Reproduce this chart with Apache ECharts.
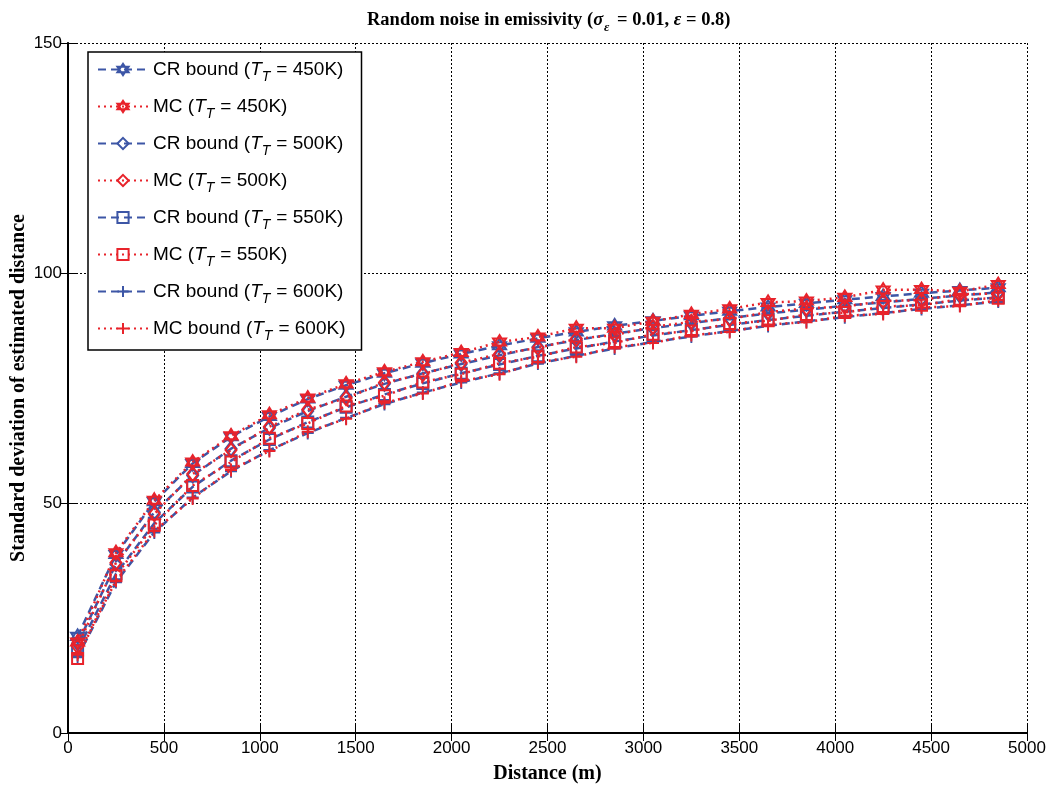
<!DOCTYPE html>
<html>
<head>
<meta charset="utf-8">
<title>Random noise in emissivity</title>
<script src="https://cdn.jsdelivr.net/npm/echarts@6/dist/echarts.min.js"></script>
<style>
  html, body { margin: 0; padding: 0; background: #fff; }
  #chart { width: 1053px; height: 789px; }
</style>
</head>
<body>
<div id="chart"></div>
<script>
// distance (m) of each simulated point
const distance = [50, 250, 450, 650, 850, 1050, 1250, 1450, 1650, 1850, 2050, 2250, 2450,
                  2650, 2850, 3050, 3250, 3450, 3650, 3850, 4050, 4250, 4450, 4650, 4850];

// CR bound curves
const cr450 = [21.0, 38.8, 50.3, 58.6, 64.4, 68.8, 72.6, 75.6, 78.2, 80.4, 82.4, 84.2, 85.8,
               87.2, 88.5, 89.6, 90.7, 91.7, 92.6, 93.4, 94.2, 94.9, 95.6, 96.2, 96.8];
const cr500 = [19.5, 36.7, 48.0, 56.0, 61.8, 66.3, 70.0, 73.1, 75.9, 78.2, 80.2, 82.1, 83.9,
               85.4, 86.8, 88.0, 89.1, 90.2, 91.2, 92.0, 92.9, 93.6, 94.4, 95.1, 95.8];
const cr550 = [18.0, 34.6, 45.6, 53.5, 59.2, 63.8, 67.6, 70.8, 73.6, 76.0, 78.2, 80.1, 82.0,
               83.6, 85.1, 86.4, 87.6, 88.7, 89.8, 90.7, 91.6, 92.4, 93.2, 94.0, 94.7];
const cr600 = [16.5, 32.8, 43.6, 51.2, 56.9, 61.5, 65.2, 68.5, 71.5, 74.0, 76.2, 78.2, 80.3,
               82.0, 83.6, 85.0, 86.2, 87.4, 88.5, 89.5, 90.4, 91.3, 92.2, 93.0, 93.8];

// Monte Carlo curves
const mc450 = [19.8, 39.2, 50.6, 58.9, 64.6, 69.2, 72.8, 75.9, 78.5, 80.7, 82.7, 85.0, 86.1,
               88.0, 88.0, 89.5, 91.0, 92.2, 93.6, 93.9, 94.7, 96.3, 96.4, 96.0, 97.5];
const mc500 = [18.8, 37.0, 47.6, 56.3, 61.5, 66.6, 70.3, 72.8, 76.2, 78.0, 80.5, 82.4, 83.7,
               85.7, 86.5, 88.3, 89.4, 90.0, 91.5, 92.3, 92.7, 93.9, 94.1, 95.4, 95.5];
const mc550 = [16.2, 34.2, 45.2, 53.8, 58.9, 64.1, 67.3, 71.1, 73.3, 76.3, 78.0, 80.4, 81.8,
               83.9, 84.8, 86.7, 87.4, 89.0, 89.6, 91.0, 91.4, 92.7, 93.0, 94.3, 94.5];
const mc600 = [17.0, 33.1, 43.9, 51.0, 57.2, 61.3, 65.5, 68.3, 71.8, 73.8, 76.5, 78.0, 80.6,
               81.8, 83.9, 84.8, 86.5, 87.2, 88.8, 89.3, 90.7, 91.1, 92.5, 92.8, 94.1];

const temps = ['450K', '500K', '550K', '600K'];

const BLUE = '#3d56a6';
const RED = '#e8232b';

// hollow marker shapes
const markers = {
  hexagram: 'path://M0,-10L8.66,5L-8.66,5ZM0,10L8.66,-5L-8.66,-5Z',
  diamond: 'path://M0,-10L7,0L0,10L-7,0Z',
  square: 'path://M-10,-10L10,-10L10,10L-10,10Z',
  plus: 'path://M0,-10L0,10M-10,0L10,0'
};

function pairs(ys) {
  return distance.map((x, i) => [x, ys[i]]);
}

function makeSeries(name, ys, kind, shape, size) {
  let isCR = kind === 'cr';
  let col = isCR ? BLUE : RED;
  return {
    name: name,
    type: 'line',
    data: pairs(ys),
    symbol: markers[shape],
    symbolSize: size,
    showSymbol: true,
    z: isCR ? 2 : 3,
    lineStyle: { color: col, width: 2.5, type: isCR ? [8, 5] : [2, 4] },
    itemStyle: { color: 'rgba(0,0,0,0)', borderColor: col, borderWidth: 2 },
    emphasis: { disabled: true },
    animation: false
  };
}

function lg(prefix, t) {
  return '{a|' + prefix + ' (}{i|T}{s|T}{a|= ' + t + ')}';
}

const series = [
  makeSeries(lg('CR bound', temps[0]), cr450, 'cr', 'hexagram', [13, 14]),
  makeSeries(lg('MC', temps[0]), mc450, 'mc', 'hexagram', [13, 14]),
  makeSeries(lg('CR bound', temps[1]), cr500, 'cr', 'diamond', [11, 14]),
  makeSeries(lg('MC', temps[1]), mc500, 'mc', 'diamond', [11, 14]),
  makeSeries(lg('CR bound', temps[2]), cr550, 'cr', 'square', [11, 11]),
  makeSeries(lg('MC', temps[2]), mc550, 'mc', 'square', [11, 11]),
  makeSeries(lg('CR bound', temps[3]), cr600, 'cr', 'plus', [12, 13]),
  makeSeries(lg('MC bound', temps[3]), mc600, 'mc', 'plus', [12, 13])
];

const chart = echarts.init(document.getElementById('chart'), null, { renderer: 'canvas' });

const tickFont = { fontFamily: 'Liberation Sans', fontSize: 17, color: '#000' };
const nameFont = { fontFamily: 'Liberation Serif', fontWeight: 'bold', fontSize: 20, color: '#000' };
const gridLine = { show: true, lineStyle: { color: '#000', width: 1, type: [2, 2] } };
const plain = v => String(v);

const option = {
  backgroundColor: '#fff',
  animation: false,
  title: {
    text: '{b|Random noise in emissivity (}{g|σ}{s|ε}{b| = 0.01, }{g|ε}{b| = 0.8)}',
    left: 362,
    top: 2,
    textStyle: {
      rich: {
        b: { fontFamily: 'Liberation Serif', fontWeight: 'bold', fontSize: 18.5, color: '#000' },
        g: { fontFamily: 'Liberation Serif', fontWeight: 'bold', fontStyle: 'italic', fontSize: 18.5, color: '#000' },
        s: { fontFamily: 'Liberation Serif', fontWeight: 'bold', fontStyle: 'italic', fontSize: 13, color: '#000', padding: [14, 3, 0, 1] }
      }
    }
  },
  grid: { left: 68, right: 26, top: 43, bottom: 56, containLabel: false, outerBoundsMode: 'none' },
  legend: {
    orient: 'vertical',
    left: 88,
    top: 52,
    padding: [8, 16, 7, 9],
    itemWidth: 50,
    itemHeight: 14,
    itemGap: 13,
    backgroundColor: '#fff',
    borderColor: '#000',
    borderWidth: 1.5,
    borderRadius: 0,
    selectedMode: false,
    data: series.map(s => s.name),
    textStyle: {
      rich: {
        a: { fontFamily: 'Liberation Sans', fontSize: 19, color: '#000' },
        i: { fontFamily: 'Liberation Sans', fontStyle: 'italic', fontSize: 19, color: '#000' },
        s: { fontFamily: 'Liberation Sans', fontStyle: 'italic', fontSize: 14, color: '#000', padding: [15, 6, 0, 0] }
      }
    }
  },
  xAxis: [
    {
      type: 'value',
      min: 0,
      max: 5000,
      interval: 500,
      name: 'Distance (m)',
      nameLocation: 'middle',
      nameGap: 31,
      nameMoveOverlap: false,
      nameTextStyle: nameFont,
      axisLine: { show: true, lineStyle: { color: '#000', width: 2 } },
      axisTick: { show: true, inside: true, length: 8, lineStyle: { color: '#000' } },
      axisLabel: Object.assign({ margin: 7, formatter: plain }, tickFont),
      splitLine: gridLine
    },
    {
      type: 'value',
      position: 'top',
      min: 0,
      max: 5000,
      interval: 500,
      axisLine: { show: true, lineStyle: { color: '#000', width: 1.5 } },
      axisTick: { show: true, inside: true, length: 8, lineStyle: { color: '#000' } },
      axisLabel: { show: false },
      splitLine: { show: false }
    }
  ],
  yAxis: [
    {
      type: 'value',
      min: 0,
      max: 150,
      interval: 50,
      name: 'Standard deviation of estimated distance',
      nameLocation: 'middle',
      nameGap: 39,
      nameMoveOverlap: false,
      nameTextStyle: nameFont,
      axisLine: { show: true, lineStyle: { color: '#000', width: 2 } },
      axisTick: { show: true, inside: true, length: 8, lineStyle: { color: '#000' } },
      axisLabel: Object.assign({ margin: 6, formatter: plain }, tickFont),
      splitLine: gridLine
    },
    {
      type: 'value',
      position: 'right',
      min: 0,
      max: 150,
      interval: 50,
      axisLine: { show: true, lineStyle: { color: '#000', width: 1.5 } },
      axisTick: { show: true, inside: true, length: 8, lineStyle: { color: '#000' } },
      axisLabel: { show: false },
      splitLine: { show: false }
    }
  ],
  series: series
};

chart.setOption(option);
</script>
</body>
</html>
